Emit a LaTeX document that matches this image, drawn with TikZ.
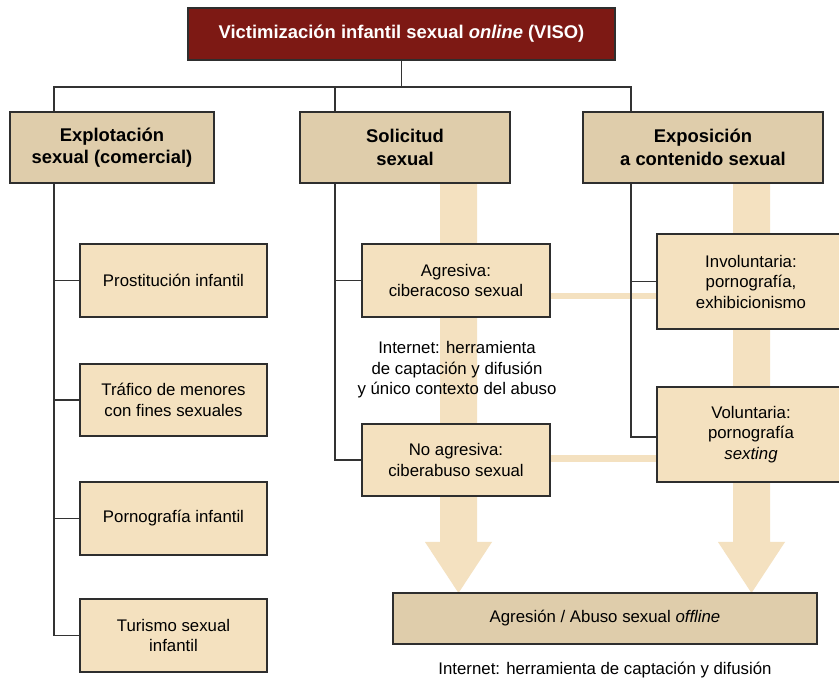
\documentclass[tikz,border=0pt]{standalone}
\usepackage{fontspec}
\setmainfont{Liberation Sans}
\definecolor{vred}{HTML}{7D1914}
\definecolor{tanA}{HTML}{DFCDAB}
\definecolor{tanB}{HTML}{F4E1BF}
\definecolor{bandc}{HTML}{F4E1C0}
\definecolor{bordc}{HTML}{2E2E2E}
\definecolor{linec}{HTML}{333333}
\begin{document}
\begin{tikzpicture}[x=1pt,y=-1pt,
  box/.style={draw=bordc, line width=1.4pt, inner sep=0pt, align=center, text=black},
  lone/.style={box, fill=tanA, font=\fontsize{18.4}{22.5}\selectfont\bfseries},
  ltwo/.style={box, fill=tanB, font=\fontsize{16.8}{20.5}\selectfont},
  lbot/.style={box, fill=tanA, font=\fontsize{16.8}{20.5}\selectfont},
  plain/.style={align=center, inner sep=0pt, font=\fontsize{16.8}{20.5}\selectfont},
  conn/.style={draw=linec, line width=1.5pt},
  band/.style={fill=bandc, draw=none}]
\useasboundingbox (0,0) rectangle (839,684);
\fill[white] (0,0) rectangle (839,684);
\begin{scope}
\clip (0,0) rectangle (839,684);
% bands
\fill[band] (440,183) -- (440,542) -- (425,542) -- (458.5,593) -- (492,542) -- (477,542) -- (477,183) -- cycle;
\fill[band] (733,183) -- (733,542) -- (718,542) -- (751.5,593) -- (785,542) -- (770,542) -- (770,183) -- cycle;
\fill[band] (550,293) rectangle (657,299);
\fill[band] (550,455) rectangle (657,462);
% nodes
\node[box, fill=vred, text=white, font=\fontsize{18.4}{22.5}\selectfont\bfseries, minimum width=427pt, minimum height=52pt] (top) at (401.5,34) {Victimización infantil sexual \textit{online} (VISO)};
\node[lone, minimum width=204pt, minimum height=71pt] (expl) at (112,147.5) {Explotación\\sexual (comercial)};
\node[lone, minimum width=210pt, minimum height=71pt] (solic) at (405,147.5) {Solicitud\\sexual};
\node[lone, minimum width=240pt, minimum height=71pt] (expo) at (703,147.5) {Exposición\\a contenido sexual};
\node[ltwo, minimum width=187pt, minimum height=73pt] (prost) at (173.5,280.5) {Prostitución infantil};
\node[ltwo, minimum width=187pt, minimum height=72pt] (traf) at (173.5,400) {Tráfico de menores\\con fines sexuales};
\node[ltwo, minimum width=187pt, minimum height=73pt] (porn) at (173.5,518.5) {Pornografía infantil};
\node[ltwo, minimum width=187pt, minimum height=73pt] (tur) at (173.5,635.5) {Turismo sexual\\infantil};
\node[ltwo, minimum width=188pt, minimum height=73pt] (agr) at (456,280.5) {Agresiva:\\ciberacoso sexual};
\node[ltwo, minimum width=188pt, minimum height=72pt] (noagr) at (456,460) {No agresiva:\\ciberabuso sexual};
\node[ltwo, minimum width=188pt, minimum height=95pt] (invol) at (751,281.5) {Involuntaria:\\pornografía,\\exhibicionismo};
\node[ltwo, minimum width=188pt, minimum height=95pt] (vol) at (751,434.5) {Voluntaria:\\pornografía\\\textit{sexting}};
\node[lbot, minimum width=424pt, minimum height=51pt] (off) at (605,618.5) {Agresión / Abuso sexual \textit{offline}};
\node[plain] (inet1) at (457,370) {Internet: herramienta\\de captación y difusión\\y único contexto del abuso};
\node[plain] (inet2) at (605,670) {Internet: herramienta de captación y difusión};
% connectors
\coordinate (sA) at (54,87);
\coordinate (sB) at (335,87);
\coordinate (sC) at (631,87);
\draw[conn] (top.south) -- (top.south |- sA);
\draw[conn] (expl.north -| sA) -- (sA) -- (sC) -- (expo.north -| sC);
\draw[conn] (sB) -- (solic.north -| sB);
\draw[conn] (expl.south -| sA) |- (tur.west);
\draw[conn] (sA |- prost.west) -- (prost.west);
\draw[conn] (sA |- traf.west) -- (traf.west);
\draw[conn] (sA |- porn.west) -- (porn.west);
\draw[conn] (solic.south -| sB) |- (noagr.west);
\draw[conn] (sB |- agr.west) -- (agr.west);
\draw[conn] (expo.south -| sC) |- ([yshift=-2.5pt]vol.west);
\draw[conn] (sC |- invol.west) -- (invol.west);
\end{scope}
\end{tikzpicture}
\end{document}
